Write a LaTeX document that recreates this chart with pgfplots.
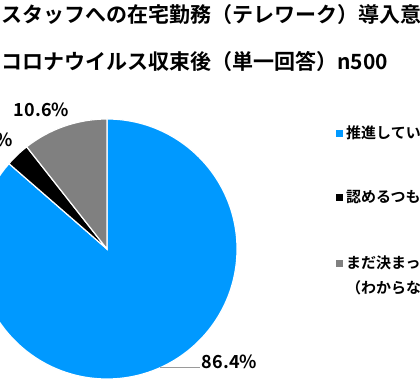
\documentclass[border=0pt]{standalone}
\usepackage{fontspec}
\setmainfont{Noto Sans CJK JP}[BoldFont={Noto Sans CJK JP Bold}]
\usepackage{pgfplots}
\usepackage{pgfplotstable}
\pgfplotsset{compat=1.18}
\definecolor{pieblue}{HTML}{0099FF}
\definecolor{piegray}{HTML}{808080}

\pgfplotstableread{
label value
A 86.4
B 3.0
C 10.6
}\piedata
\pgfplotstablegetelem{0}{value}\of\piedata \let\va\pgfplotsretval
\pgfplotstablegetelem{1}{value}\of\piedata \let\vb\pgfplotsretval
\pgfplotstablegetelem{2}{value}\of\piedata \let\vc\pgfplotsretval
\pgfmathsetmacro\aA{90-3.6*\va}
\pgfmathsetmacro\aB{\aA-3.6*\vb}
\pgfmathsetmacro\aC{\aB-3.6*\vc}

\begin{document}
\begin{tikzpicture}
\path[use as bounding box] (0,0) rectangle (420pt,387pt);
\clip (0,0) rectangle (420pt,387pt);
\begin{axis}[hide axis, x=1pt, y=1pt, xmin=0, xmax=420, ymin=0, ymax=387,
  scale only axis, at={(0,0)}, anchor=south west, clip=false]
\filldraw[fill=pieblue, draw=white, line width=1.2pt] (axis cs:107,138) -- ++(90:130pt) arc[start angle=90, end angle=\aA, radius=130pt] -- cycle;
\filldraw[fill=black, draw=white, line width=1.2pt] (axis cs:107,138) -- ++(\aA:130pt) arc[start angle=\aA, end angle=\aB, radius=130pt] -- cycle;
\filldraw[fill=piegray, draw=white, line width=1.2pt] (axis cs:107,138) -- ++(\aB:130pt) arc[start angle=\aB, end angle=\aC, radius=130pt] -- cycle;
\addplot[only marks, mark=square*, mark size=3pt, pieblue] coordinates {(339,254)};
\addplot[only marks, mark=square*, mark size=3pt, black] coordinates {(339,190)};
\addplot[only marks, mark=square*, mark size=3pt, piegray] coordinates {(339,124)};
\draw[piegray!80, line width=1pt] (axis cs:160,19) -- (axis cs:200,19);
\node[anchor=west, inner sep=0pt, font=\fontsize{21}{21}\selectfont\bfseries] at (axis cs:1,372) {スタッフへの在宅勤務（テレワーク）導入意向};
\node[anchor=west, inner sep=0pt, font=\fontsize{21}{21}\selectfont\bfseries] at (axis cs:1,325) {コロナウイルス収束後（単一回答）n500};
\node[anchor=west, inner sep=0pt, font=\fontsize{15}{15}\selectfont\bfseries] at (axis cs:346,254) {推進している};
\node[anchor=west, inner sep=0pt, font=\fontsize{15}{15}\selectfont\bfseries] at (axis cs:346,190) {認めるつもりはない};
\node[anchor=west, inner sep=0pt, font=\fontsize{15}{15}\selectfont\bfseries] at (axis cs:346,124) {まだ決まっていない};
\node[anchor=west, inner sep=0pt, font=\fontsize{15}{15}\selectfont\bfseries] at (axis cs:346,99) {（わからない）};
\node[inner sep=0pt, font=\fontsize{18}{18}\selectfont\bfseries] at (axis cs:41.5,277.5) {10.6\%};
\node[inner sep=0pt, font=\fontsize{18}{18}\selectfont\bfseries] at (axis cs:229.5,25.5) {86.4\%};
\node[anchor=east, inner sep=0pt, font=\fontsize{18}{18}\selectfont\bfseries] at (axis cs:13,247) {3.0\%};
\end{axis}
\end{tikzpicture}
\end{document}
